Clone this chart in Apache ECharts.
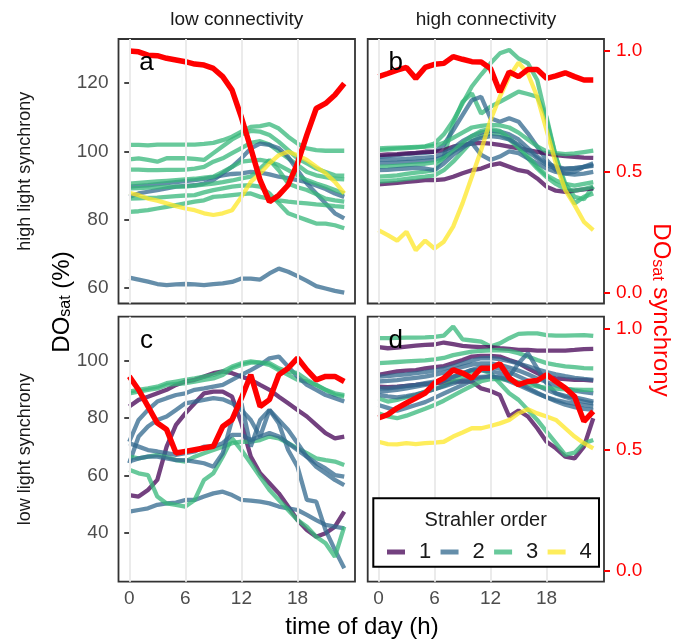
<!DOCTYPE html>
<html>
<head>
<meta charset="utf-8">
<script src="https://cdn.jsdelivr.net/npm/echarts@6/dist/echarts.min.js"></script>
<style>
html, body { margin: 0; padding: 0; background: #fff; }
#chart { width: 691px; height: 640px; }
</style>
</head>
<body>
<div id="chart"></div>
<script>
var hours = [0, 1, 2, 3, 4, 5, 6, 7, 8, 9, 10, 11, 12, 13, 14, 15, 16, 17, 18, 19, 20, 21, 22, 23];
var hourTicks = [0, 6, 12, 18];
var doTicksTop = [60, 80, 100, 120];
var doTicksBottom = [40, 60, 80, 100];
var syncTicks = [0, 0.5, 1];
var orderNames = ['1', '2', '3', '4'];
var orderColors = ['rgba(68,1,84,0.75)', 'rgba(49,104,142,0.75)', 'rgba(53,183,121,0.75)', 'rgba(253,231,37,0.75)'];

// a: high light synchrony, low connectivity
var a1 = [63.1, 62.5, 61.9, 61.2, 60.9, 61.1, 61.2, 61.1, 60.9, 61.2, 61.4, 61.8, 62.8, 62.8, 62.5, 64.3, 65.7, 64.8, 63.5, 62.1, 60.6, 59.9, 59.2, 58.7];
var a2 = [101.9, 101.9, 101.8, 102, 102, 102, 102, 102, 102.2, 102.5, 103.3, 104.3, 105.8, 107.2, 107.4, 108, 106.7, 104.3, 102.3, 100.9, 100.4, 100.2, 100.2, 100.2];
var a3 = [97.7, 98, 97.5, 97, 98, 98, 98, 97.8, 97.5, 99.5, 101.5, 103.5, 105, 106, 105.8, 104.8, 102.8, 100.4, 98, 96.5, 95, 94, 93, 92.9];
var a4 = [94.7, 94.7, 94.5, 94.5, 94.6, 94.6, 94.7, 95, 95.5, 97, 98, 99.5, 101, 102.5, 103, 102, 100, 98, 96, 94, 93, 92.5, 92, 91.8];
var a5 = [86.7, 87.7, 88.2, 88.7, 89.2, 89.7, 89.9, 90.1, 90.6, 91.6, 93.6, 95.5, 98, 100.9, 102.3, 101.9, 100.9, 98.4, 94.5, 90.6, 87.7, 84.8, 81.9, 80.4];
var a6 = [89.7, 89.9, 90.1, 90.4, 90.7, 91, 91.3, 91.6, 92, 92.5, 93, 93.4, 93.6, 94, 93.8, 93.3, 92.6, 92.2, 91.6, 91, 90, 89, 87.7, 86.7];
var a7 = [87.9, 87.2, 86.2, 85.6, 84.8, 84, 83.3, 82.8, 81.9, 81.4, 81.9, 82.8, 86.7, 91.1, 93.6, 96.5, 98.9, 99.9, 98.9, 97.5, 95.5, 93.6, 91.1, 87.7];
var a8 = [90.6, 90.8, 91, 91.2, 91.4, 91.6, 91.8, 92, 92.3, 92.6, 94, 95.5, 97, 97.3, 97.5, 97, 96, 94.5, 93, 91.6, 90.6, 89.7, 88.7, 87.7];
var a9 = [89.2, 89.3, 89.4, 89.5, 89.6, 89.7, 89.7, 90, 90.3, 90.6, 91, 91.5, 92.1, 92.6, 95, 97.5, 94.5, 90.6, 89.5, 88.7, 87.5, 86.2, 85.7, 85.3];
var a10 = [86.2, 86.3, 86.4, 86.5, 86.7, 86.9, 87.1, 87.2, 88, 88.7, 89.2, 89.7, 90, 90.1, 89.7, 87.7, 84.8, 81.9, 80.9, 79.9, 78.9, 78.9, 78.4, 77.5];
var a11 = [82.3, 82.5, 82.8, 83.3, 83.8, 84.3, 84.8, 85.3, 85.7, 86.7, 86.9, 87.2, 87.5, 87.7, 86.7, 86.2, 85.7, 85.3, 85, 84.8, 84.5, 84.3, 84, 83.8];
var syncA = [1.0, 0.997, 0.983, 0.981, 0.97, 0.963, 0.956, 0.946, 0.942, 0.928, 0.894, 0.838, 0.725, 0.597, 0.465, 0.376, 0.403, 0.445, 0.535, 0.653, 0.762, 0.783, 0.818, 0.866];

// b: high light synchrony, high connectivity
var b1 = [77, 75.5, 73.9, 76.5, 71.1, 73.9, 71.6, 73.6, 78, 84.8, 92.6, 100.4, 109.2, 116, 121.9, 126, 122.8, 116, 106.2, 96.5, 88.7, 84.3, 79.4, 77];
var b2 = [100.4, 100.6, 100.8, 101, 101.2, 101.5, 102.3, 105, 109, 114, 119, 122.5, 125.8, 128.7, 129.7, 127.2, 125.8, 120.9, 109.2, 98.4, 89.6, 84.8, 86.7, 87.7];
var b3 = [92.6, 92.8, 93, 93.4, 93.8, 94.1, 94.5, 98.4, 108.2, 114.5, 117, 111.1, 113.1, 114.5, 116, 117.5, 116.8, 116, 110.1, 98.4, 90.6, 86.7, 86, 89.7];
var b4 = [98.4, 98.6, 98.9, 99.2, 99.4, 99.6, 99.9, 101.9, 106.2, 110.6, 115, 116, 109.7, 108.7, 109.7, 108.7, 105.3, 101.4, 97.5, 94.5, 93.6, 94, 95.5, 96.5];
var b5 = [90.4, 90.6, 90.8, 91.1, 91.3, 91.6, 91.6, 91.8, 92.6, 93.6, 94.5, 95, 96, 96.5, 95.5, 94.5, 94, 92.1, 89.7, 88.5, 88.2, 88.5, 88.9, 89.2];
var b6 = [98.9, 99.1, 99.2, 99.4, 99.6, 99.9, 99.9, 100.4, 101.4, 101.9, 102.3, 102.5, 102.3, 101.9, 101.4, 100.9, 100.4, 99.9, 99.4, 98.9, 98.6, 98.4, 98.2, 98.1];
var b7 = [91.2, 91.4, 91.6, 92, 92.3, 92.6, 93, 94.5, 97, 100, 103, 104.5, 105.3, 105, 103.5, 101, 98, 95, 92.5, 90.5, 89, 88.5, 89, 89.7];
var b8 = [100.9, 101, 101.1, 101.2, 101.3, 101.4, 101.6, 102.5, 104, 105.5, 107, 107.5, 107.8, 107.6, 107, 105.5, 103.5, 101.5, 100, 99.5, 99.2, 99.4, 99.8, 100.2];
var b9 = [97.5, 97.6, 97.7, 97.8, 98, 98.2, 98.4, 99.5, 101, 103, 104.5, 105.5, 106, 105.8, 105, 103.5, 101, 98.5, 96.5, 95.5, 95, 95.2, 95.5, 95.8];
var b10 = [96.5, 96.6, 96.7, 96.9, 97, 97.2, 97.5, 98.5, 100, 101.5, 102.5, 99, 97.5, 98.5, 100, 99.5, 98, 96.5, 95, 94, 93.5, 93.2, 93.5, 94];
var b11 = [95.5, 95.6, 95.8, 96, 96.2, 96.4, 96.8, 98, 100, 102.5, 104.5, 106, 106.5, 106, 104, 101.5, 98.5, 95.5, 93, 91.5, 90.5, 90, 90.5, 91];
var b12 = [94.5, 94.6, 94.8, 95, 95.2, 95, 94.5, 96.5, 99, 101, 103, 104, 104.5, 104.2, 103.5, 102, 100, 98, 96, 95, 94.8, 95, 95.5, 96];
var syncB = [0.894, 0.907, 0.921, 0.932, 0.887, 0.932, 0.945, 0.949, 0.977, 0.966, 0.956, 0.955, 0.928, 0.83, 0.914, 0.894, 0.924, 0.924, 0.887, 0.897, 0.91, 0.894, 0.88, 0.88];

// c: low light synchrony, low connectivity
var c1 = [53.1, 52.6, 54.9, 58.4, 70, 77.6, 81.6, 85.1, 88.6, 89.2, 89.2, 87.4, 78.1, 66.5, 60.7, 57.2, 53.7, 49.1, 44.4, 40.9, 38.6, 39.8, 42.1, 47.3];
var c2 = [84, 86.3, 87.4, 88.6, 89.8, 91.5, 92.7, 93.3, 94.4, 95.6, 96.2, 95.6, 94.4, 93.3, 91.5, 89.8, 87.4, 85.1, 82.8, 80.5, 77.6, 74.7, 72.9, 73.5];
var c3 = [88.6, 89.2, 89.8, 90.3, 91.5, 91.9, 92.1, 92.7, 93.3, 93.8, 95, 97.3, 98.5, 99.3, 99.3, 98.5, 96.7, 95, 93.3, 92.7, 91.5, 89.8, 88, 87.4];
var c4 = [71.7, 79.3, 82.8, 85.7, 86.9, 88, 88.6, 89.8, 90.3, 90.9, 91.5, 93.3, 95, 96.7, 98.5, 100.8, 101.4, 97.9, 94.4, 91.5, 89.8, 88, 86.9, 85.7];
var c5 = [64.2, 73.5, 77, 79.3, 80.5, 82.8, 85.1, 85.7, 86.3, 86.9, 86.5, 85.1, 82.8, 79.3, 73.5, 82.8, 78.1, 68.8, 63, 51.4, 50.8, 40.9, 34, 27.6];
var c6 = [47.3, 47.9, 48.5, 49.7, 50.2, 50.5, 51.4, 51.4, 52.6, 53.7, 54.3, 53.1, 51.4, 51.2, 50.8, 50.2, 49.1, 48.5, 47.9, 46.2, 44.4, 42.7, 42.1, 41.5];
var c7 = [61.9, 60.7, 60.1, 52.6, 50.2, 49.7, 49.1, 51.4, 58.4, 60.7, 66.5, 72.9, 68.8, 64.2, 59.5, 54.9, 51.4, 47.9, 44.4, 42.1, 38.6, 36.3, 31.6, 42.1];
var c8 = [66.5, 65.9, 66.5, 67.1, 66.5, 65.3, 64.8, 66.5, 67.7, 68.8, 70, 71.2, 71.7, 71.7, 72.3, 73.5, 72.9, 71.2, 69.4, 67.7, 65.9, 65.3, 64.8, 63.6];
var c9 = [71.2, 70, 68.8, 68.3, 67.7, 67.1, 67.7, 68.3, 70, 70, 71.2, 74.1, 74.1, 72.3, 73.5, 74.7, 73.5, 71.2, 68.8, 66.5, 64.2, 62.4, 60.1, 59.5];
var c10 = [64.8, 65.9, 66.5, 66.5, 65.9, 65.3, 65.3, 64.8, 64.2, 63, 67.7, 79.3, 85.1, 70, 79.3, 82.8, 79.3, 75.8, 71.2, 66.5, 63, 60.7, 58.4, 56.6];
var c11 = [89.2, 89.8, 90.3, 90.9, 92.1, 92.7, 93.3, 93.8, 94.4, 95, 96.2, 97.9, 99.1, 99.7, 99.3, 99.1, 97.3, 96.2, 95.6, 93.3, 91.5, 89.8, 88.6, 88];
var syncC = [0.803, 0.748, 0.679, 0.61, 0.583, 0.486, 0.493, 0.5, 0.507, 0.514, 0.596, 0.624, 0.713, 0.81, 0.679, 0.707, 0.81, 0.837, 0.879, 0.83, 0.789, 0.803, 0.803, 0.782];

// d: low light synchrony, high connectivity
var d1 = [107.8, 107.8, 107.9, 108, 108, 108.1, 108.3, 108.7, 111.9, 107.4, 107, 106.6, 104.9, 106, 107.8, 109.3, 109.5, 109.5, 108.9, 108.7, 108.7, 108.8, 108.9, 108.6];
var d2 = [104.7, 104.3, 104.5, 104.9, 105.2, 105.5, 105.6, 106.3, 105.7, 105.1, 104.9, 104.7, 104.7, 104.3, 104.1, 103.7, 103.7, 103.5, 103.5, 103.5, 103.5, 103.7, 104, 104.1];
var d3 = [99.1, 99.3, 99.5, 99.7, 99.9, 100.1, 100.4, 100.9, 101.9, 102.5, 103.1, 103.4, 103.6, 103.6, 103.4, 102.6, 101.4, 100.2, 99.1, 98.5, 98, 97.7, 97.4, 97.3];
var d4 = [95, 95.6, 96.2, 96.5, 96.7, 97.3, 97.7, 98.1, 99.1, 100.2, 101.4, 101.6, 101.6, 101.4, 100.2, 99.1, 97.3, 95.6, 94.4, 93.8, 93.5, 93.3, 93.3, 93];
var d5 = [90.9, 90.7, 90.9, 91.2, 91.5, 91.9, 92.1, 92.3, 92.7, 92.7, 92.7, 90.3, 89.4, 88, 80.5, 82.6, 80.5, 76.4, 71.7, 69.4, 66.5, 65.9, 70, 79.9];
var d6 = [86.9, 85.7, 86.3, 87.2, 88, 89.2, 90, 91.2, 92.7, 94.4, 96.2, 96.7, 95.6, 92.1, 88.6, 86.3, 82.8, 79.3, 75.2, 71.2, 67.1, 67.9, 71.2, 72.3];
var d7 = [71.7, 70.9, 70.8, 71.2, 70.9, 71.2, 71.4, 71.7, 73.5, 74.9, 76.4, 76.4, 77.2, 78.1, 79.3, 81.6, 83, 81.6, 80.5, 79.3, 76.4, 73.5, 71.2, 69.4];
var d8 = [90.3, 90.3, 90.7, 91.2, 91.5, 92.1, 92.7, 93.3, 94.4, 95.6, 96.7, 96.7, 96.2, 95.6, 94.4, 99.1, 102.6, 97.3, 92.1, 88.6, 87.7, 87.2, 86.5, 85.7];
var d9 = [94.4, 94.6, 94.9, 95.2, 95.6, 96, 96.5, 97.2, 98, 99, 100, 100.8, 100.9, 100.5, 99.8, 99, 98, 97, 96, 95.2, 94.6, 94, 93.6, 93.3];
var d10 = [92.7, 92.9, 93.2, 93.6, 94, 94.4, 95, 95.8, 96.8, 97.8, 98.6, 99, 99, 98.5, 97.6, 96.5, 95.2, 93.8, 92.5, 91.3, 90.3, 89.5, 89, 88.6];
var d11 = [89.2, 89.4, 89.8, 90.3, 90.9, 91.5, 92.2, 93, 94.3, 95.5, 96.8, 97.7, 97.9, 97.2, 96, 94.5, 93, 91.3, 89.8, 88.5, 87.3, 86.4, 85.7, 85.1];
var d12 = [84.5, 83.5, 82.5, 83.5, 84.5, 85.5, 87, 88.5, 90, 91.5, 93, 94, 94.5, 94, 92.8, 91.5, 90, 88.5, 87.2, 86.2, 85.5, 85, 84.5, 84];
var d13 = [81.6, 80.5, 79.9, 80.8, 82, 83.2, 84.5, 86, 87.8, 89.5, 91.2, 92.8, 93.5, 93.6, 93.2, 92.5, 91.7, 91, 90.5, 90.2, 90, 89.9, 89.8, 89.8];
var d14 = [88, 87.5, 87.2, 87.6, 88.2, 89, 90, 91, 92, 93, 93.8, 94.3, 94.5, 94.1, 93.3, 92, 90.5, 88.8, 87.2, 85.8, 84.6, 83.8, 83.2, 82.8];
var syncD = [0.631, 0.645, 0.672, 0.693, 0.713, 0.734, 0.775, 0.796, 0.83, 0.817, 0.796, 0.837, 0.837, 0.855, 0.796, 0.769, 0.782, 0.786, 0.81, 0.782, 0.755, 0.72, 0.617, 0.658];

// [Strahler order, values] per site line
var panels = [
    { letter: 'a', lines: [[2, a1], [3, a2], [3, a3], [3, a4], [2, a5], [2, a6], [3, a8], [3, a9], [3, a10], [3, a11], [4, a7]], sync: syncA },
    { letter: 'b', lines: [[3, b2], [3, b3], [2, b4], [1, b5], [1, b6], [3, b7], [3, b8], [2, b9], [2, b10], [3, b11], [2, b12], [4, b1]], sync: syncB },
    { letter: 'c', lines: [[1, c1], [1, c2], [3, c3], [2, c4], [2, c5], [2, c6], [3, c7], [3, c8], [2, c9], [2, c10], [3, c11]], sync: syncC },
    { letter: 'd', lines: [[3, d1], [1, d2], [3, d3], [1, d4], [1, d5], [3, d6], [4, d7], [2, d8], [2, d9], [2, d10], [2, d11], [2, d12], [3, d13], [2, d14]], sync: syncD }
];

var font = 'Liberation Sans, Arial, sans-serif';
var grids = [
    { left: 118.5, top: 39, width: 236.5, height: 264.5 },
    { left: 367.7, top: 39, width: 236.3, height: 264.5 },
    { left: 118.5, top: 316.7, width: 236.5, height: 265 },
    { left: 367.7, top: 316.7, width: 236.3, height: 265 }
];
var doRange = [[55.5, 132.9], [55.5, 132.9], [22.9, 115.3], [22.9, 115.3]];
var syncRange = [-0.046, 1.05];

function pairs(values) {
    return hours.map(function (h, i) { return [h, values[i]]; });
}

var xAxis = [], yAxis = [], series = [], graphic = [];
grids.forEach(function (g, i) {
    g.show = true;
    g.borderColor = '#333';
    g.borderWidth = 1.8;
    var bottomRow = i >= 2, leftCol = i % 2 === 0;
    xAxis.push({
        type: 'value', gridIndex: i, min: -1.15, max: 24.15,
        axisLine: { show: false }, splitLine: { show: false },
        axisTick: { show: bottomRow, customValues: hourTicks, length: 5, lineStyle: { color: '#333', width: 1.8 } },
        axisLabel: { show: bottomRow, customValues: hourTicks, fontSize: 19, color: '#4d4d4d', margin: 8, fontFamily: font }
    });
    yAxis.push({
        type: 'value', gridIndex: i, position: 'left', min: doRange[i][0], max: doRange[i][1],
        axisLine: { show: false }, splitLine: { show: false },
        axisTick: { show: leftCol, customValues: i < 2 ? doTicksTop : doTicksBottom, length: 5, lineStyle: { color: '#333', width: 1.8 } },
        axisLabel: { show: leftCol, customValues: i < 2 ? doTicksTop : doTicksBottom, fontSize: 19, color: '#4d4d4d', margin: 10, fontFamily: font }
    });
    yAxis.push({
        type: 'value', gridIndex: i, position: 'right', min: syncRange[0], max: syncRange[1],
        axisLine: { show: false }, splitLine: { show: false },
        axisTick: { show: !leftCol, customValues: syncTicks, length: 6, lineStyle: { color: '#ff0000', width: 2 } },
        axisLabel: {
            show: !leftCol, customValues: syncTicks, fontSize: 19, color: '#ff0000', margin: 12, fontFamily: font,
            formatter: function (v) { return v.toFixed(1); }
        }
    });

    // vertical grid lines at the tick hours
    series.push({
        type: 'line', name: 'grid', data: [], xAxisIndex: i, yAxisIndex: i * 2, z: 1, silent: true,
        markLine: {
            silent: true, symbol: ['none', 'none'], animation: false, label: { show: false },
            lineStyle: { color: '#ebebeb', width: 2, type: 'solid' },
            data: hourTicks.map(function (h) { return { xAxis: h }; })
        }
    });

    var p = panels[i];
    p.lines.forEach(function (ln) {
        var col = orderColors[ln[0] - 1];
        series.push({
            type: 'line', name: orderNames[ln[0] - 1], xAxisIndex: i, yAxisIndex: i * 2,
            data: pairs(ln[1]), symbol: 'none', silent: true, z: 2,
            lineStyle: { width: 4.3, color: col }, itemStyle: { color: col }
        });
    });
    series.push({
        type: 'line', name: 'sync', xAxisIndex: i, yAxisIndex: i * 2 + 1,
        data: pairs(p.sync), symbol: 'none', silent: true, z: 3,
        lineStyle: { width: 5.5, color: '#ff0000' }, itemStyle: { color: '#ff0000' }
    });

    graphic.push({
        type: 'text', x: g.left + 28, y: g.top + 24, z: 10,
        style: { text: p.letter, font: '26px ' + font, fill: '#000', textAlign: 'center', textVerticalAlign: 'middle' }
    });
});

var stripStyle = { font: '19px ' + font, fill: '#1a1a1a', textAlign: 'center', textVerticalAlign: 'middle' };
var rowStyle = { font: '18px ' + font, fill: '#1a1a1a', textAlign: 'center', textVerticalAlign: 'middle' };
graphic.push(
    { type: 'text', x: 236.75, y: 20, style: Object.assign({ text: 'low connectivity' }, stripStyle) },
    { type: 'text', x: 485.9, y: 20, style: Object.assign({ text: 'high connectivity' }, stripStyle) },
    { type: 'text', x: 25, y: 171.25, rotation: Math.PI / 2, style: Object.assign({ text: 'high light synchrony' }, rowStyle) },
    { type: 'text', x: 25, y: 449.2, rotation: Math.PI / 2, style: Object.assign({ text: 'low light synchrony' }, rowStyle) },
    { type: 'text', x: 362, y: 627, style: { text: 'time of day (h)', font: '24px ' + font, fill: '#000', textAlign: 'center', textVerticalAlign: 'middle' } },
    {
        type: 'text', x: 62, y: 302, rotation: Math.PI / 2,
        style: {
            text: '{a|DO}{b|sat}{a| (%)}', fill: '#000', textAlign: 'center', textVerticalAlign: 'middle',
            rich: {
                a: { fontSize: 24, fontFamily: font, lineHeight: 24, verticalAlign: 'top' },
                b: { fontSize: 16, fontFamily: font, lineHeight: 16, verticalAlign: 'bottom', padding: [12, 0, 0, 0] }
            }
        }
    },
    {
        type: 'text', x: 661, y: 310, rotation: -Math.PI / 2,
        style: {
            text: '{a|DO}{b|sat}{a| synchrony}', fill: '#ff0000', textAlign: 'center', textVerticalAlign: 'middle',
            rich: {
                a: { fontSize: 24, fontFamily: font, lineHeight: 24, verticalAlign: 'top', color: '#ff0000' },
                b: { fontSize: 16, fontFamily: font, lineHeight: 16, verticalAlign: 'bottom', padding: [12, 0, 0, 0], color: '#ff0000' }
            }
        }
    },
    {
        type: 'rect', z: 8, shape: { x: 373.3, y: 498.3, width: 225.7, height: 68.4 },
        style: { fill: '#fff', stroke: '#000', lineWidth: 2 }
    },
    { type: 'text', x: 485.7, y: 520, z: 9, style: { text: 'Strahler order', font: '20px ' + font, fill: '#1a1a1a', textAlign: 'center', textVerticalAlign: 'middle' } }
);

var chart = echarts.init(document.getElementById('chart'));
chart.setOption({
    animation: false,
    grid: grids,
    xAxis: xAxis,
    yAxis: yAxis,
    legend: {
        data: orderNames, left: 387, top: 541, padding: 0, z: 10,
        icon: 'rect', itemWidth: 18, itemHeight: 5, itemGap: 9.3, selectedMode: false,
        formatter: function (name) { return '{p|' + name + '}'; },
        textStyle: {
            color: '#1a1a1a', fontSize: 22, fontFamily: font,
            rich: { p: { fontSize: 22, fontFamily: font, color: '#1a1a1a', padding: [0, 0, 0, 9], lineHeight: 22 } }
        }
    },
    series: series,
    graphic: graphic
});
</script>
</body>
</html>
